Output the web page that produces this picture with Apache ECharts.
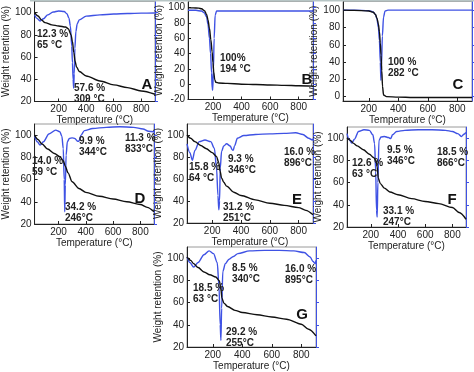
<!DOCTYPE html>
<html><head><meta charset="utf-8">
<script src="https://cdn.jsdelivr.net/npm/echarts@6/dist/echarts.min.js"></script>
<style>html,body{margin:0;padding:0;background:#fff}#c{width:474px;height:372px}</style>
</head><body><div id="c"></div>
<script>
// ---- shared tick labels ----
const xTickValues = [200, 400, 600, 800];
const yTicks20 = [20, 40, 60, 80, 100];
const yTicksB = [-20, 0, 20, 40, 60, 80, 100];
const yTicksC = [0, 20, 40, 60, 80, 100];

// ---- Panel A ----
const tgaTempA = [25, 50, 75, 100, 150, 200, 250, 270, 290, 300, 310, 320, 330, 350, 400, 500, 600, 700, 800, 900];
const tgaA     = [100, 97, 93.5, 91, 89, 88, 87, 85.5, 80, 74, 64, 56, 51, 47, 43, 38.5, 35, 32.5, 29.5, 26.5];
const dtgTempA = [25, 40, 65, 90, 120, 160, 200, 240, 260, 275, 285, 295, 300, 305, 309, 313, 318, 325, 335, 350, 400, 500, 600, 700, 800, 900];
const dtgA     = [98, 95, 92.5, 94.5, 98, 100.5, 101.5, 101, 99, 95, 88, 70, 55, 40, 32, 45, 68, 83, 90, 93.5, 96.8, 98, 98.7, 99.2, 99.5, 99.7];

// ---- Panel B ----
const tgaTempB = [25, 60, 100, 120, 140, 155, 165, 175, 185, 194, 200, 205, 212, 220, 240, 300, 400, 500, 600, 700, 800, 900];
const tgaB     = [100, 99.7, 99.3, 98.5, 96, 91, 84, 73, 58, 42, 28, 16, 6, 2.5, 1.5, 1, 0, -0.5, -1, -1.5, -2, -2.5];
const dtgTempB = [25, 80, 120, 140, 155, 165, 175, 183, 190, 194, 198, 203, 208, 215, 225, 300, 900];
const dtgB     = [96.5, 96.5, 95.5, 93, 88, 78, 60, 40, 15, -5, -8, 20, 60, 90, 95.5, 95.5, 95.5];

// ---- Panel C ----
const tgaTempC = [25, 100, 200, 230, 245, 255, 265, 272, 278, 283, 288, 293, 300, 320, 400, 500, 600, 700, 800, 900];
const tgaC     = [100, 99.8, 99, 97.5, 95, 91, 84, 75, 62, 48, 30, 12, 2, 0, -0.5, -1, -1, -1, -1, -1];
const dtgTempC = [25, 100, 200, 230, 245, 255, 265, 272, 278, 282, 286, 292, 300, 310, 330, 900];
const dtgC     = [100, 100, 99.5, 98, 95, 90, 80, 65, 40, 19, 35, 70, 92, 99, 100, 100];

// ---- Panel D ----
const tgaTempD = [25, 50, 80, 120, 170, 210, 235, 250, 270, 300, 350, 400, 500, 600, 700, 800, 850, 900];
const tgaD     = [100, 96, 92, 87.5, 83.5, 80.5, 77, 72, 66, 58, 52, 48.5, 45, 42.5, 40, 37.5, 35, 31];
const dtgTempD = [25, 45, 65, 90, 130, 180, 210, 225, 235, 242, 246, 250, 256, 265, 280, 300, 320, 340, 350, 365, 390, 450, 550, 650, 750, 820, 860, 900];
const dtgD     = [99, 94, 91, 94, 101, 104.5, 103, 99, 88, 60, 31, 55, 82, 94, 97, 97.5, 97, 94.5, 94.5, 100, 104, 106, 107, 107.5, 107, 105.5, 103.5, 103];

// ---- Panel E ----
const tgaTempE = [25, 50, 80, 120, 160, 200, 230, 245, 255, 265, 280, 300, 350, 400, 500, 600, 700, 800, 850, 900];
const tgaE     = [100, 97, 94, 90.5, 87.5, 84, 80.5, 75, 67, 61, 57, 53.5, 48, 45, 41, 38, 36, 34, 31.5, 27.5];
const dtgTempE = [25, 45, 62, 80, 110, 150, 190, 215, 230, 240, 246, 251, 256, 265, 280, 300, 325, 340, 346, 355, 375, 420, 500, 600, 700, 780, 830, 870, 896, 900];
const dtgE     = [92, 84, 77, 86, 94, 95.5, 94, 88, 70, 45, 32, 40, 70, 85, 90, 92, 90, 86.5, 86, 90, 97, 99.5, 100.5, 101, 101.5, 102, 100.5, 97, 95.5, 96.5];

// ---- Panel F ----
const tgaTempF = [25, 50, 70, 100, 145, 190, 220, 240, 247, 255, 270, 300, 340, 400, 500, 600, 700, 800, 850, 900];
const tgaF     = [100, 98, 95.5, 93, 89.5, 85.5, 82.5, 79.5, 74, 64, 59, 55, 51.5, 49, 45.5, 43, 41, 37.5, 33, 27];
const dtgTempF = [25, 40, 60, 80, 110, 150, 190, 215, 228, 236, 242, 247, 252, 260, 275, 300, 330, 346, 360, 390, 450, 550, 650, 750, 800, 840, 866, 885, 900];
const dtgF     = [104, 99, 95.5, 99, 106, 107.5, 107, 103, 95, 70, 35, 29, 60, 98, 101, 101.5, 100.5, 99.5, 103, 106, 107, 107.5, 107.5, 107, 106, 104, 101.5, 103.5, 105];

// ---- Panel G ----
const tgaTempG = [25, 50, 70, 100, 140, 180, 220, 245, 255, 262, 275, 300, 350, 400, 500, 600, 700, 800, 850, 900];
const tgaG     = [101, 98, 95, 91.5, 87.5, 85, 83, 79.5, 72, 64, 59.5, 56.5, 53, 51, 49, 47, 45, 40.5, 36, 30];
const dtgTempG = [25, 45, 70, 100, 140, 175, 205, 230, 242, 250, 255, 260, 268, 285, 310, 340, 370, 450, 550, 650, 750, 820, 860, 880, 895, 900];
const dtgG     = [101, 96, 92, 96, 103, 106.5, 104, 96, 75, 40, 26, 55, 88, 95, 99, 101.5, 104, 106.5, 107, 107, 106.5, 105, 101, 97, 95, 98];

// ---- annotation texts ----
const notesA = ['12.3 %\n65 °C', '57.6 %\n309 °C'];
const notesB = ['100%\n194 °C'];
const notesC = ['100 %\n282 °C'];
const notesD = ['14.0 %\n59 °C', '34.2 %\n246°C', '9.9 %\n344°C', '11.3 %\n833°C'];
const notesE = ['15.8 %\n64 °C', '31.2 %\n251°C', '9.3 %\n346°C', '16.0 %\n896°C'];
const notesF = ['12.6 %\n63 °C', '33.1 %\n247°C', '9.5 %\n346°C', '18.5 %\n866°C'];
const notesG = ['18.5 %\n63 °C', '29.2 %\n255°C', '8.5 %\n340°C', '16.0 %\n895°C'];

const zip = (a, b) => a.map((v, i) => [v, b[i]]);

const panels = [
  { letter: 'A', tgaT: tgaTempA, tga: tgaA, dtgT: dtgTempA, dtg: dtgA, yTicks: yTicks20, ymin: 20, ymax: 110, notes: notesA,
    box: { left: 30, top: 1.5, width: 125, height: 100 }, nameGap: 17,
    notePos: [[37, 29], [74, 83]], letterPos: [147, 85] },
  { letter: 'B', tgaT: tgaTempB, tga: tgaB, dtgT: dtgTempB, dtg: dtgB, yTicks: yTicksB, ymin: -20, ymax: 108, notes: notesB,
    box: { left: 188, top: 1.5, width: 125, height: 98 }, nameGap: 15,
    notePos: [[220, 53]], letterPos: [307, 80] },
  { letter: 'C', tgaT: tgaTempC, tga: tgaC, dtgT: dtgTempC, dtg: dtgC, yTicks: yTicksC, ymin: -5, ymax: 110, notes: notesC,
    box: { left: 343, top: 1.5, width: 129, height: 99.5 }, nameGap: 13,
    notePos: [[388, 57]], letterPos: [458, 85] },
  { letter: 'D', tgaT: tgaTempD, tga: tgaD, dtgT: dtgTempD, dtg: dtgD, yTicks: yTicks20, ymin: 20, ymax: 110, notes: notesD,
    box: { left: 29, top: 124, width: 125, height: 100 }, nameGap: 17,
    notePos: [[32, 156], [65, 202], [79, 136], [125, 133]], letterPos: [140, 199] },
  { letter: 'E', tgaT: tgaTempE, tga: tgaE, dtgT: dtgTempE, dtg: dtgE, yTicks: yTicks20, ymin: 20, ymax: 110, notes: notesE,
    box: { left: 187, top: 124, width: 126, height: 99 }, nameGap: 17,
    notePos: [[189, 162], [223, 202], [228, 154], [284, 147]], letterPos: [297, 200] },
  { letter: 'F', tgaT: tgaTempF, tga: tgaF, dtgT: dtgTempF, dtg: dtgF, yTicks: yTicks20, ymin: 20, ymax: 110, notes: notesF,
    box: { left: 347, top: 127, width: 119, height: 100 }, nameGap: 16,
    notePos: [[352, 158], [383, 206], [387, 145], [437, 147]], letterPos: [452, 200] },
  { letter: 'G', tgaT: tgaTempG, tga: tgaG, dtgT: dtgTempG, dtg: dtgG, yTicks: yTicks20, ymin: 20, ymax: 110, notes: notesG,
    box: { left: 187, top: 247, width: 129, height: 100 }, nameGap: 15,
    notePos: [[193, 283], [226, 327], [232, 263], [285, 264]], letterPos: [302, 315] }
];

const FONT = "'Liberation Sans', Arial, sans-serif";
const BLUE = '#3f52e4';
const grid = [], xAxis = [], yAxis = [], series = [], graphic = [];

graphic.push({ type: 'rect', shape: { x: 30, y: 0, width: 444, height: 1.5 }, style: { fill: '#b7c5c5' }, z: 100 });

panels.forEach((p, i) => {
  grid.push(Object.assign({ show: true, borderColor: '#9a9a9a', borderWidth: 1, backgroundColor: '#fff' }, p.box));
  xAxis.push({
    gridIndex: i, type: 'value', min: 25, max: 900,
    axisLine: { onZero: false, lineStyle: { color: '#222', width: 1 } },
    axisTick: { inside: true, length: 3, customValues: xTickValues, lineStyle: { color: '#222' } },
    axisLabel: { customValues: xTickValues, fontSize: 10, margin: 3, color: '#222', fontFamily: FONT },
    splitLine: { show: false },
    name: 'Temperature (°C)', nameLocation: 'middle', nameGap: 12,
    nameTextStyle: { fontSize: 10, color: '#222', fontFamily: FONT }
  });
  yAxis.push({
    gridIndex: i, type: 'value', min: p.ymin, max: p.ymax, position: 'left',
    axisLine: { show: true, onZero: false, lineStyle: { color: '#222', width: 1 } },
    axisTick: { show: true, inside: true, length: 3, customValues: p.yTicks, lineStyle: { color: '#222' } },
    axisLabel: { customValues: p.yTicks, fontSize: 10, margin: 3, color: '#222', fontFamily: FONT },
    splitLine: { show: false },
    name: 'Weight retention (%)', nameLocation: 'middle', nameGap: p.nameGap, nameRotate: 90,
    nameTextStyle: { fontSize: 10, color: '#222', fontFamily: FONT }
  });
  yAxis.push({
    gridIndex: i, type: 'value', min: p.ymin, max: p.ymax, position: 'right',
    axisLine: { show: true, onZero: false, lineStyle: { color: BLUE, width: 1 } },
    axisTick: { show: true, inside: false, length: 3, customValues: p.yTicks, lineStyle: { color: BLUE } },
    axisLabel: { show: false }, splitLine: { show: false }
  });
  series.push({
    type: 'line', xAxisIndex: i, yAxisIndex: 2 * i, data: zip(p.tgaT, p.tga),
    showSymbol: false, smooth: 0.3, smoothMonotone: 'x',
    lineStyle: { color: '#111', width: 1.4 }, z: 3
  });
  series.push({
    type: 'line', xAxisIndex: i, yAxisIndex: 2 * i + 1, data: zip(p.dtgT, p.dtg),
    showSymbol: false, smooth: 0.3, smoothMonotone: 'x',
    lineStyle: { color: BLUE, width: 1.4 }, z: 2
  });
  p.notes.forEach((t, k) => {
    graphic.push({
      type: 'text', x: p.notePos[k][0], y: p.notePos[k][1], z: 50,
      style: { text: t, font: 'bold 10px ' + FONT, fill: '#222', lineHeight: 11, textVerticalAlign: 'top' }
    });
  });
  graphic.push({
    type: 'text', x: p.letterPos[0], y: p.letterPos[1], z: 50,
    style: { text: p.letter, font: 'bold 15px ' + FONT, fill: '#111', textAlign: 'center', textVerticalAlign: 'middle' }
  });
});

const chart = echarts.init(document.getElementById('c'), null, { renderer: 'canvas' });
chart.setOption({ animation: false, backgroundColor: '#fff', grid, xAxis, yAxis, series, graphic });
</script>
</body></html>
